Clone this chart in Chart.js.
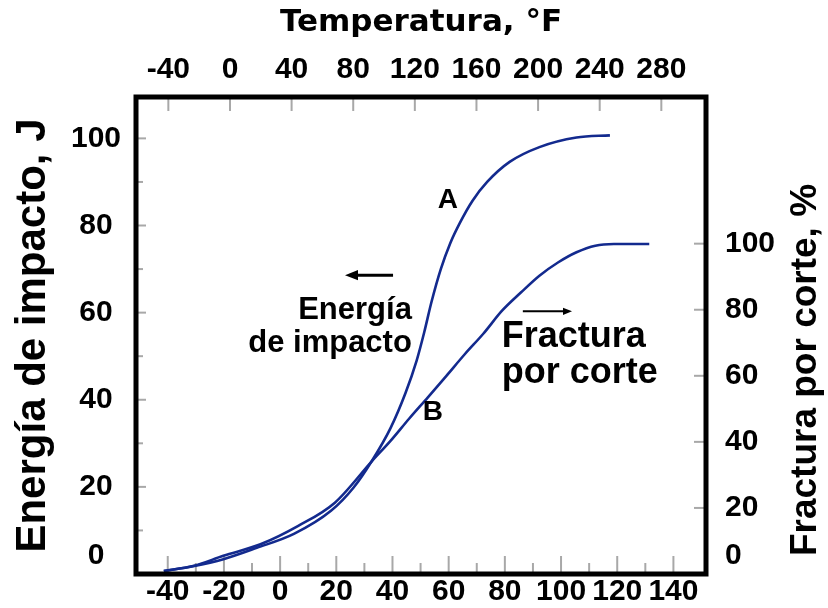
<!DOCTYPE html>
<html>
<head>
<meta charset="utf-8">
<script src="https://cdn.jsdelivr.net/npm/chart.js@4.4.0/dist/chart.umd.min.js"></script>
<style>
  html, body { margin: 0; padding: 0; background: #fff; }
  #wrap { width: 828px; height: 608px; position: relative; }
</style>
</head>
<body>
<div id="wrap"><canvas id="impactChart"></canvas></div>
<script>
// Curva A: energía de impacto (J) frente a temperatura (°C)
const tempA = [-41.4, -31, -20.2, -8.3, 4.9, 18.1, 26.1, 32.7, 39.3, 44.6, 48.6, 51.3, 53.9, 57.2, 60.6, 63.9, 68.5, 73.7, 81.7, 92.3, 105.5, 117.4];
const energiaA = [0.7, 1.8, 3.4, 6.0, 9.2, 14.5, 19.8, 26, 33.5, 41.5, 49, 55.5, 62.5, 70, 76, 80.5, 85.7, 90, 94.6, 98, 100.2, 100.7];

// Curva B: fractura por corte (%) frente a temperatura (°C)
const tempB = [-41.4, -31, -20.2, -7, 6.3, 19.5, 32.7, 39.3, 45.9, 52.6, 59.2, 65.8, 72.4, 79, 85.7, 92.3, 98.9, 105.5, 112.2, 118.8, 131.4];
const corteB = [0.9, 2.4, 5.5, 9, 14.5, 21.6, 34.2, 40.3, 47, 53.5, 60, 66.6, 72.8, 79.7, 85.2, 90.3, 94.3, 97.4, 99.4, 99.9, 99.9];

// etiquetas de los ejes
const ticksC = [-40, -20, 0, 20, 40, 60, 80, 100, 120, 140];
const ticksF = [-40, 0, 40, 80, 120, 160, 200, 240, 280];
const ticksJ = [0, 20, 40, 60, 80, 100];
const ticksPct = [0, 20, 40, 60, 80, 100];

const FONT = "'Liberation Sans', Arial, sans-serif";
const lineColor = '#132a8e';

const tickFont = { family: FONT, weight: 'bold', size: 30 };
const noGrid = { display: false, drawTicks: false };

// marcas de división hacia dentro del marco
const innerTicks = {
    id: 'innerTicks',
    beforeDatasetsDraw(chart) {
        const { ctx, chartArea: a, scales } = chart;
        ctx.save();
        ctx.strokeStyle = '#a8a8a8';
        ctx.lineWidth = 2;
        const mark = (x1, y1, x2, y2) => {
            ctx.beginPath();
            ctx.moveTo(x1, y1);
            ctx.lineTo(x2, y2);
            ctx.stroke();
        };
        scales.x.ticks.forEach(t => {
            if (t.value < -40 || t.value > 140 || t.value % 10 !== 0) return;
            const px = scales.x.getPixelForValue(t.value);
            const len = ticksC.includes(t.value) ? 18 : 11;
            mark(px, a.bottom, px, a.bottom - len);
        });
        scales.x2.ticks.forEach(t => {
            if (!ticksF.includes(t.value)) return;
            const px = scales.x2.getPixelForValue(t.value);
            mark(px, a.top, px, a.top + 14);
        });
        scales.y.ticks.forEach(t => {
            if (t.value <= 0 || t.value > 100 || t.value % 10 !== 0) return;
            const py = scales.y.getPixelForValue(t.value);
            const len = ticksJ.includes(t.value) ? 10 : 7;
            mark(a.left, py, a.left + len, py);
        });
        scales.y2.ticks.forEach(t => {
            if (t.value <= 0 || !ticksPct.includes(t.value)) return;
            const py = scales.y2.getPixelForValue(t.value);
            mark(a.right, py, a.right - 12, py);
        });
        ctx.restore();
    }
};

// marco negro, textos y flechas
const notas = [
    { text: 'A', x: 59.7, y: 85.9, align: 'center', base: 'middle', size: 28 },
    { text: 'B', x: 54.4, y: 37.1, align: 'center', base: 'middle', size: 28 },
    { text: 'Energía', x: 46.9, y: 58.5, align: 'right', base: 'alphabetic', size: 31 },
    { text: 'de impacto', x: 46.9, y: 51.0, align: 'right', base: 'alphabetic', size: 31 },
    { text: 'Fractura', x: 78.9, y: 52.1, align: 'left', base: 'alphabetic', size: 36 },
    { text: 'por corte', x: 78.9, y: 43.8, align: 'left', base: 'alphabetic', size: 36 }
];
const flechas = [
    { from: [40.2, 68.6], to: [23.1, 68.6], head: 13, width: 3 },
    { from: [86.4, 60.3], to: [103.9, 60.3], head: 9, width: 2 }
];

const decor = {
    id: 'decor',
    afterDatasetsDraw(chart) {
        const { ctx, chartArea: a, scales } = chart;
        const sx = scales.x, sy = scales.y;
        ctx.save();
        ctx.fillStyle = '#000';
        notas.forEach(n => {
            ctx.font = 'bold ' + n.size + 'px ' + FONT;
            ctx.textAlign = n.align;
            ctx.textBaseline = n.base;
            ctx.fillText(n.text, sx.getPixelForValue(n.x), sy.getPixelForValue(n.y));
        });
        ctx.strokeStyle = '#000';
        flechas.forEach(f => {
            const x1 = sx.getPixelForValue(f.from[0]), y1 = sy.getPixelForValue(f.from[1]);
            const x2 = sx.getPixelForValue(f.to[0]), y2 = sy.getPixelForValue(f.to[1]);
            const dir = Math.sign(x2 - x1);
            ctx.lineWidth = f.width;
            ctx.beginPath();
            ctx.moveTo(x1, y1);
            ctx.lineTo(x2 - dir * f.head * 0.5, y2);
            ctx.stroke();
            ctx.beginPath();
            ctx.moveTo(x2, y2);
            ctx.lineTo(x2 - dir * f.head, y2 - f.head * 0.4);
            ctx.lineTo(x2 - dir * f.head, y2 + f.head * 0.4);
            ctx.closePath();
            ctx.fill();
        });
        ctx.lineWidth = 5;
        ctx.strokeRect(a.left, a.top, a.right - a.left, a.bottom - a.top);

        // título del eje derecho, leído de abajo hacia arriba
        ctx.font = 'bold 37px ' + FONT;
        ctx.textAlign = 'center';
        ctx.textBaseline = 'middle';
        ctx.translate(chart.width - 22, 370);
        ctx.rotate(-Math.PI / 2);
        ctx.fillText('Fractura por corte, %', 0, 0);
        ctx.restore();
    }
};

// tamaño fijo de cada eje para que el marco quede donde en la figura
const fixSize = (prop, v) => scale => {
    scale[prop] = v;
    scale.paddingTop = 0;
    scale.paddingBottom = 0;
    scale.paddingLeft = 0;
    scale.paddingRight = 0;
};

new Chart(document.getElementById('impactChart'), {
    type: 'line',
    data: {
        datasets: [
            {
                label: 'Energía de impacto',
                data: tempA.map((t, i) => ({ x: t, y: energiaA[i] })),
                xAxisID: 'x', yAxisID: 'y',
                borderColor: lineColor, borderWidth: 2.6,
                pointRadius: 0, fill: false,
                cubicInterpolationMode: 'monotone'
            },
            {
                label: 'Fractura por corte',
                data: tempB.map((t, i) => ({ x: t, y: corteB[i] })),
                xAxisID: 'x', yAxisID: 'y2',
                borderColor: lineColor, borderWidth: 2.6,
                pointRadius: 0, fill: false,
                cubicInterpolationMode: 'monotone'
            }
        ]
    },
    options: {
        responsive: true,
        maintainAspectRatio: false,
        animation: false,
        layout: { padding: 0 },
        plugins: { legend: { display: false }, tooltip: { enabled: false } },
        scales: {
            x: {
                type: 'linear', position: 'bottom',
                min: -51.3, max: 151.6,
                grid: noGrid, border: { display: false },
                afterFit: fixSize('height', 34),
                ticks: {
                    stepSize: 10, autoSkip: false, maxRotation: 0, padding: 0, includeBounds: false,
                    font: tickFont, color: '#000',
                    callback: v => ticksC.includes(v) ? String(v) : ''
                }
            },
            x2: {
                type: 'linear', position: 'top',
                min: -61, max: 309,
                grid: noGrid, border: { display: false },
                afterFit: fixSize('height', 97),
                title: {
                    display: true, text: 'Temperatura, °F', color: '#000',
                    font: { family: "'DejaVu Sans', sans-serif", weight: 'bold', size: 31 },
                    padding: { top: 4, bottom: 0 }
                },
                ticks: {
                    stepSize: 40, autoSkip: false, maxRotation: 0, padding: 9, includeBounds: false,
                    font: tickFont, color: '#000',
                    callback: v => ticksF.includes(v) ? String(v) : ''
                }
            },
            y: {
                type: 'linear', position: 'left',
                min: 0, max: 109.5,
                grid: noGrid, border: { display: false },
                afterFit: fixSize('width', 136),
                title: {
                    display: true, text: 'Energía de impacto, J', color: '#000',
                    font: { family: FONT, weight: 'bold', size: 42 },
                    padding: { top: 8, bottom: 0 }
                },
                ticks: {
                    stepSize: 10, autoSkip: false, padding: 15, crossAlign: 'center', includeBounds: false,
                    font: tickFont, color: '#000',
                    callback: v => v === 0 ? ['0', ''] : (ticksJ.includes(v) ? String(v) : '')
                }
            },
            y2: {
                type: 'linear', position: 'right',
                min: 0, max: 144.4,
                grid: noGrid, border: { display: false },
                afterFit: fixSize('width', 122),
                ticks: {
                    stepSize: 20, autoSkip: false, padding: 19, crossAlign: 'near', includeBounds: false,
                    font: tickFont, color: '#000',
                    callback: v => v === 0 ? ['0', ''] : (ticksPct.includes(v) ? String(v) : '')
                }
            }
        }
    },
    plugins: [innerTicks, decor]
});
</script>
</body>
</html>
